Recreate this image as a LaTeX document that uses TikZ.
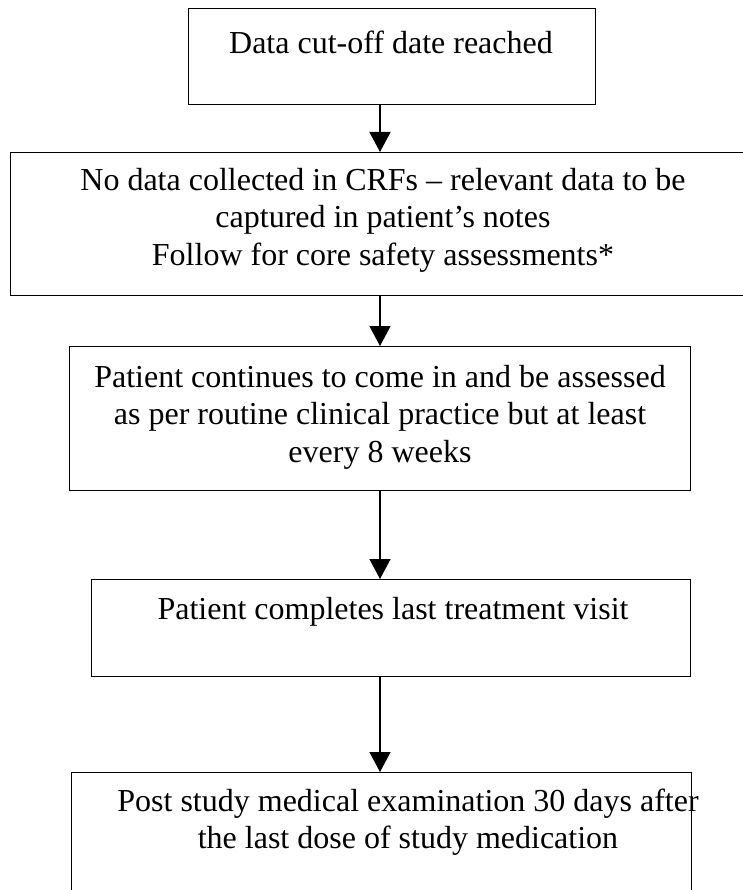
\documentclass[tikz,border=0pt]{standalone}
\usepackage{fontspec}
\setmainfont{Liberation Serif}
\usetikzlibrary{arrows.meta, positioning}

\begin{document}
\begin{tikzpicture}[x=1pt,y=-1pt,>={Triangle[length=20pt,width=21pt]},line width=1.3pt,
	font=\fontsize{32}{37.5}\selectfont]
	\tikzset{box/.style={draw, rectangle, anchor=north west, inner sep=0pt}}
	\tikzset{txt/.style={align=center, inner sep=0pt}}
	\clip (0,0) rectangle (743,890);
	\fill[white] (0,0) rectangle (743,890);
	% boxes
	\node[box, minimum width=407, minimum height=96] (cutoff) at (188,8) {};
	\node[box, minimum width=745, minimum height=143] (nocrf) at (10,152) {};
	\node[box, minimum width=621, minimum height=144] (visits) at (69,346) {};
	\node[box, minimum width=599, minimum height=97] (lastvisit) at (91,579) {};
	\node[box, minimum width=620, minimum height=140] (postexam) at (71,772) {};
	% texts
	\node[txt] (cutofftxt) at (391,42) {Data cut-off date reached};
	\node[txt] (nocrftxt) at (383,220) {No data collected in CRFs -- relevant data to be\\
		captured in patient's notes\\ Follow for core safety assessments*};
	\node[txt] (visitstxt) at (380,417) {Patient continues to come in and be assessed\\
		as per routine clinical practice but at least\\ every 8 weeks};
	\node[txt] (lastvisittxt) at (393,612) {Patient completes last treatment visit};
	\node[txt] (postexamtxt) at (408,822) {Post study medical examination 30 days after\\
		the last dose of study medication};
	% arrows
	\coordinate (axis) at (380,0);
	\draw[->] (cutoff.south -| axis) -- (nocrf.north -| axis);
	\draw[->] (nocrf.south -| axis) -- (visits.north -| axis);
	\draw[->] (visits.south -| axis) -- (lastvisit.north -| axis);
	\draw[->] (lastvisit.south -| axis) -- (postexam.north -| axis);
\end{tikzpicture}
\end{document}
